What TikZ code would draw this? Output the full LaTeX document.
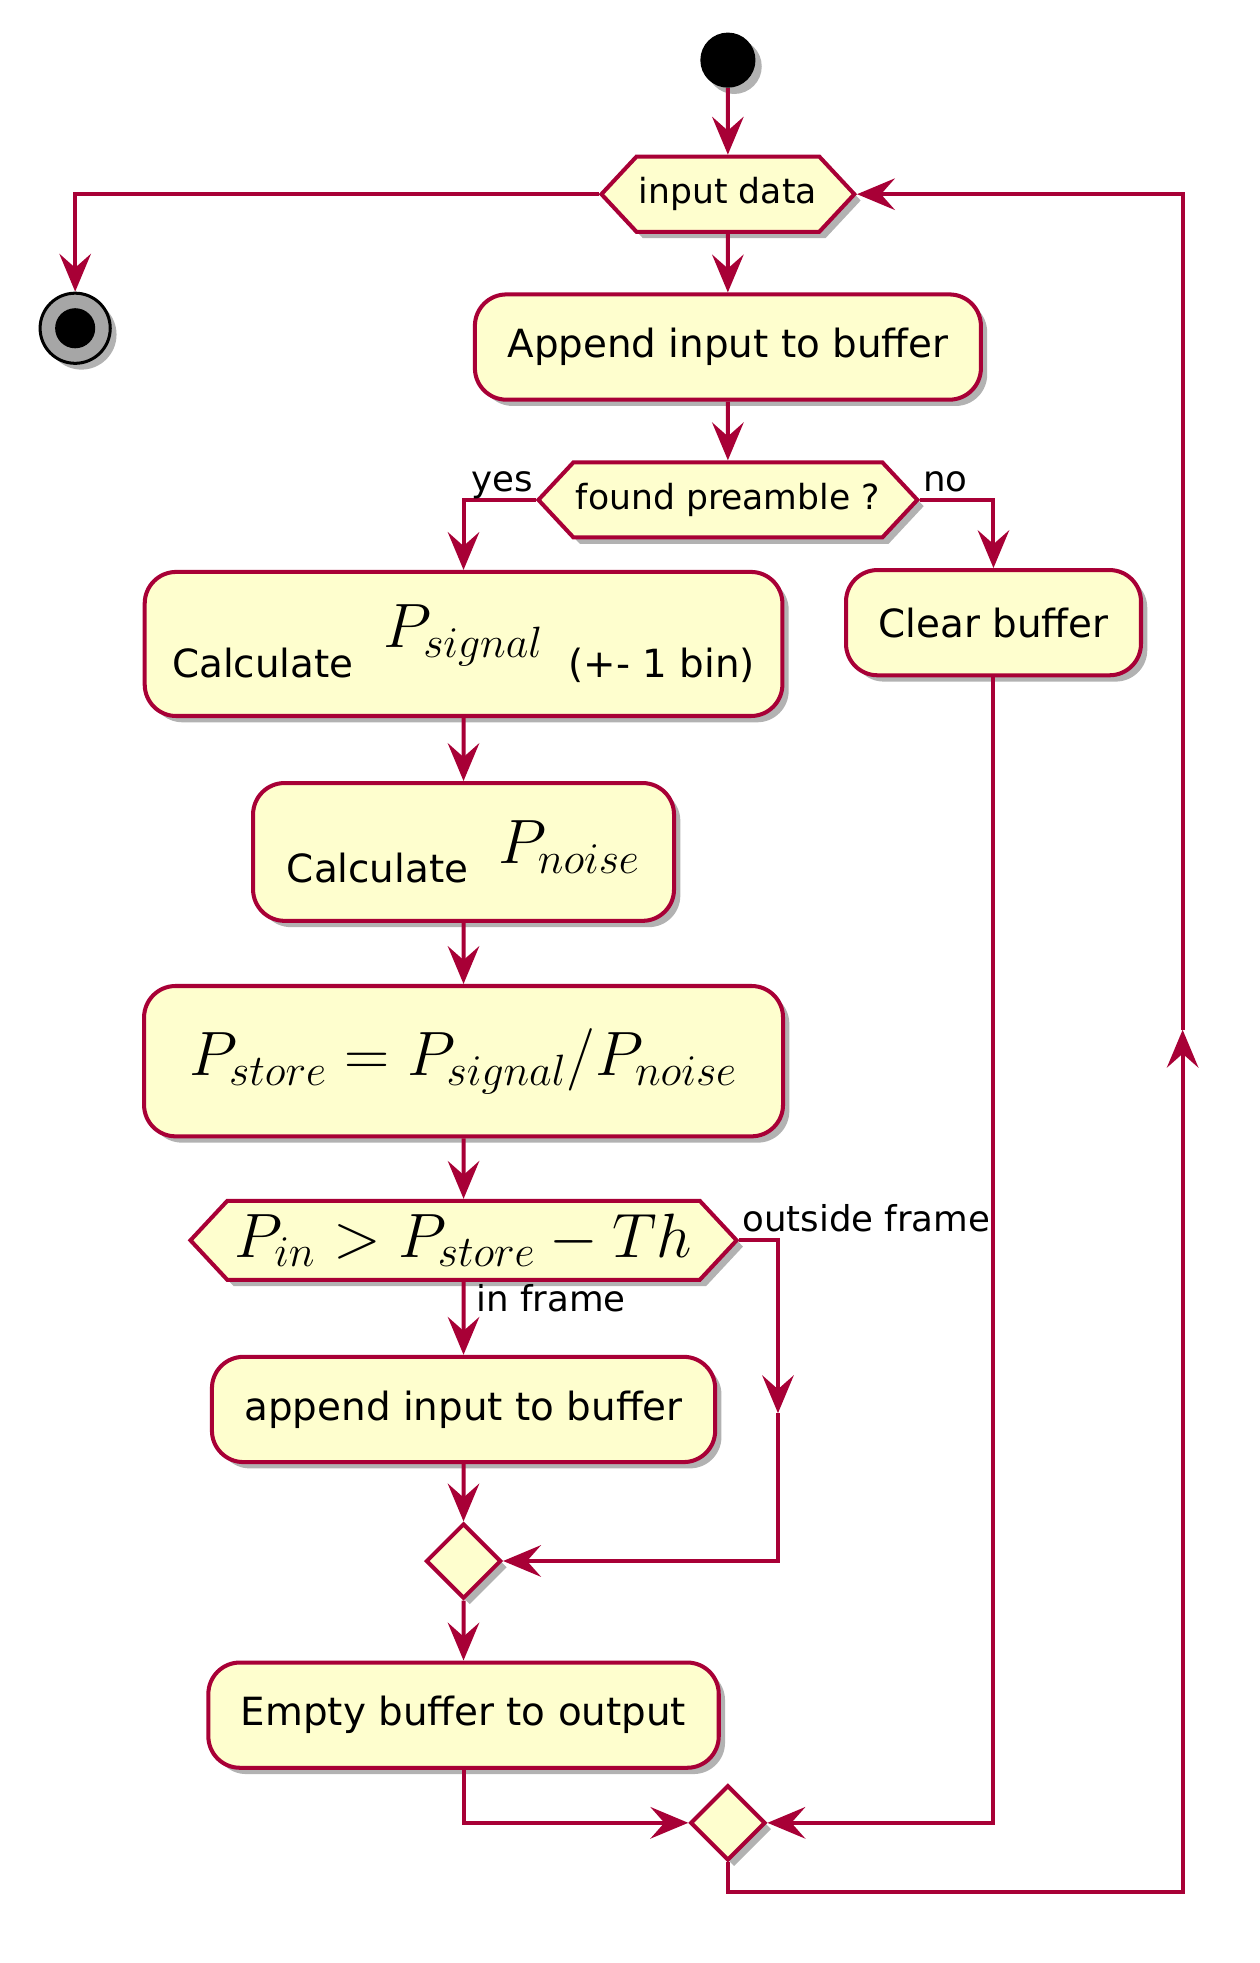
\RequirePackage{fix-cm}
\documentclass[tikz,border=0pt]{standalone}
\usepackage{fontspec}
\setmainfont{DejaVu Sans}
\usetikzlibrary{arrows.meta,shapes.geometric,shapes.symbols,shadows}
\definecolor{umlred}{HTML}{A80036}
\definecolor{umlfill}{HTML}{FEFECE}
\newcommand\eqsize{\fontsize{25}{29}\selectfont}

\begin{document}
\begin{tikzpicture}
  [x=0.5pt,y=-0.5pt,
  %%%%%%%%%%%%%%%%%%%%%%%%%%%%%%
  umlshadow/.style={drop shadow={shadow xshift=2.5pt,shadow yshift=-2.5pt,opacity=0.3,fill=black}},
  act/.style={rectangle,rounded corners=12.5pt,draw=umlred,fill=umlfill,line width=1.6pt,umlshadow,
    inner xsep=13pt,minimum height=42pt,font=\fontsize{15.5}{18}\selectfont},
  cond/.style={signal,signal to=west and east,signal pointer angle=94,draw=umlred,fill=umlfill,
    line width=1.6pt,umlshadow,inner xsep=1pt,inner ysep=0pt,minimum height=30pt,font=\fontsize{13.8}{16}\selectfont},
  merge/.style={diamond,aspect=1,minimum size=30pt,inner sep=0pt,draw=umlred,fill=umlfill,line width=1.6pt,umlshadow},
  startdot/.style={circle,fill=black,minimum size=22pt,inner sep=0pt,umlshadow},
  stopdot/.style={circle,draw=black,line width=1.2pt,fill=black!35,minimum size=28pt,inner sep=0pt,umlshadow,
    path picture={\fill[black] (path picture bounding box.center) circle (8pt);}},
  flow/.style={draw=umlred,line width=1.6pt,-{Stealth[length=15pt,width=12.5pt,inset=5.5pt]}},
  lbl/.style={inner sep=1pt,font=\fontsize{14.2}{16}\selectfont},
  ]%%%%%%%%%%%%%%%%%%%%%%%%%%%%%%
  \fill[white] (0,0) rectangle (1000,1559);

  \begin{scope}[scale=0.995,transform shape]
  % main column
  \node[startdot] (start) at (581,48) {};
  \node[cond] (indata) at (581,155) {input data};
  \node[stopdot] (stop) at (60,262) {};
  \node[act,minimum width=200pt] (append) at (581,277) {Append input to buffer};
  \node[cond] (found) at (581,399) {found preamble ?};
  \node[act,inner xsep=11pt,minimum width=252pt,minimum height=57.5pt] (psig) at (370,514)
    {Calculate\hspace{12pt}\raisebox{12pt}{\eqsize$P_{signal}$}\hspace{10pt}(+- 1 bin)};
  \node[act,minimum width=114pt] (clear) at (793,497) {Clear buffer};
  \node[act,minimum width=168pt,minimum height=55pt] (pnoise) at (370,680)
    {Calculate\hspace{12pt}\raisebox{7.5pt}{\eqsize$P_{noise}$}\hspace{2pt}};
  \node[act,minimum width=255pt,minimum height=60pt] (pstore) at (370,847)
    {\eqsize$P_{store}=P_{signal}/P_{noise}$};
  \node[cond,minimum height=31.5pt,inner xsep=3pt] (pin) at (370,990) {\eqsize$P_{in}>P_{store}-Th$};
  \node[act,minimum width=200pt] (app2) at (370,1125) {append input to buffer};
  \node[merge] (m1) at (370,1246) {};
  \node[act,minimum width=200pt] (empty) at (370,1369) {Empty buffer to output};
  \node[merge] (m2) at (581,1455) {};

  % bends of the loops
  \coordinate (outmid) at (621,1128);
  \coordinate (lowturn) at (944,1510);
  \coordinate (upmid) at (944,822);

  % straight arrows
  \foreach \a/\b in {start/indata,indata/append,append/found,psig/pnoise,pnoise/pstore,pstore/pin,pin/app2,app2/m1,m1/empty}{
    \draw[flow] (\a) -- (\b);
  }
  \draw[flow] (indata.west) -| (stop.north);
  \draw[flow] (found.west) -| (psig.north);
  \draw[flow] (found.east) -| (clear.north);
  \draw[flow] (clear.south) |- (m2.east);
  \draw[flow] (empty.south) |- (m2.west);
  \draw[flow] (pin.east) -| (outmid);
  \draw[flow] (outmid) |- (m1.east);
  \draw[flow] (m2.south) |- (lowturn) -- (upmid);
  \draw[flow] (upmid) |- (indata.east);

  \node[lbl,anchor=base east,yshift=3.5pt] (yeslbl) at (found.west) {yes};
  \node[lbl,anchor=base west,yshift=3.5pt] (nolbl) at (found.east) {no};
  \node[lbl,anchor=base west,yshift=3.5pt] (outlbl) at (pin.east) {outside frame};
  \node[lbl,anchor=north west,xshift=4pt] (inlbl) at (pin.south) {in frame};
  \end{scope}
\end{tikzpicture}
\end{document}
